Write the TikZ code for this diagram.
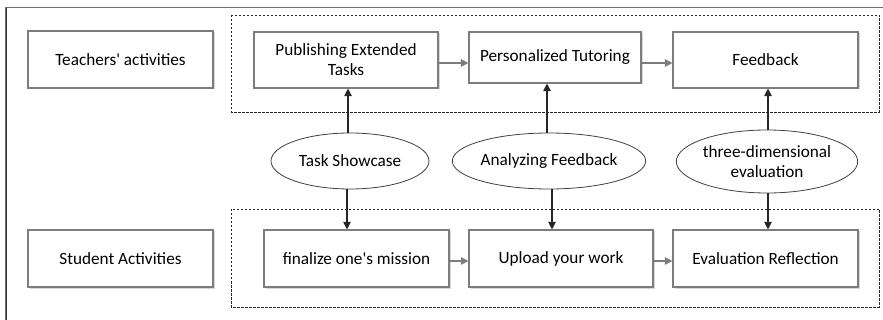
\documentclass[tikz,border=0pt]{standalone}
\usepackage{fontspec}
\setmainfont{Carlito}[Ligatures=TeXOff]
\usetikzlibrary{shapes.geometric,shadows,arrows.meta}
\definecolor{boxgray}{RGB}{125,125,125}
\definecolor{framegray}{RGB}{110,110,110}
\begin{document}
\begin{tikzpicture}[x=1pt,y=-1pt,
  font=\fontsize{17.2}{20}\selectfont,
  boxnode/.style={draw=boxgray,line width=1.1pt,fill=white,
    drop shadow={shadow xshift=1.5pt,shadow yshift=-1.5pt,fill=black!25,opacity=0.6},
    align=center,inner sep=0pt},
  ellnode/.style={draw=black!75,line width=0.8pt,ellipse,fill=white,align=center,inner sep=0pt},
  grp/.style={draw=black!85,dashed,dash pattern=on 2.5pt off 1.5pt,line width=0.8pt},
  harrow/.style={draw=boxgray,line width=1.1pt,-{Triangle[length=7.5pt,width=7.5pt]}},
  varrow/.style={draw=black!85,line width=1.1pt,-{Triangle[length=7.5pt,width=7.5pt]}}]
\useasboundingbox (0,0) rectangle (883,320);
% outer frame
\draw[framegray,line width=1.4pt] (6,320) -- (6,7.5) -- (883,7.5);
\draw[black!80,line width=1pt] (6,320) -- (6,8);
% groups
\draw[grp] (231,15) rectangle (879,112);
\draw[grp] (231,209) rectangle (879,307);
% boxes
\node[boxnode,minimum width=185pt,minimum height=57pt] (ta) at (120.5,59.5) {Teachers' activities};
\node[boxnode,minimum width=184pt,minimum height=56pt] (pub) at (346,60) {Publishing Extended\\Tasks};
\node[boxnode,minimum width=172pt,minimum height=51pt] (pers) at (555,57.5) {Personalized Tutoring};
\node[boxnode,minimum width=185pt,minimum height=56pt] (fb) at (765.5,60) {Feedback};
\node[boxnode,minimum width=185pt,minimum height=57pt] (sa) at (120.5,258.5) {Student Activities};
\node[boxnode,minimum width=185pt,minimum height=57pt] (fin) at (356.5,258.5) {finalize one's mission};
\node[boxnode,minimum width=184pt,minimum height=57pt] (up) at (561,258.5) {Upload your work};
\node[boxnode,minimum width=185pt,minimum height=57pt] (ev) at (765.5,258.5) {Evaluation Reflection};
% ellipses
\node[ellnode,minimum width=158pt,minimum height=56pt] (ts) at (350,161) {Task Showcase};
\node[ellnode,minimum width=156pt,minimum height=56pt] (af) at (549,161) {Analyzing Feedback};
\node[ellnode,minimum width=156pt,minimum height=63pt] (td) at (767,161.5) {three-dimensional\\evaluation};
% horizontal arrows
\draw[harrow] (pub.east |- 0,63) -- (pers.west |- 0,63);
\draw[harrow] (pers.east |- 0,63) -- (fb.west |- 0,63);
\draw[harrow] (fin.east |- 0,261) -- (up.west |- 0,261);
\draw[harrow] (up.east |- 0,261) -- (ev.west |- 0,261);
% vertical arrows
\draw[varrow] ([xshift=-2pt]ts.north) -- ([xshift=-2pt]ts.north |- pub.south);
\draw[varrow] ([xshift=-3pt]ts.south) -- ([xshift=-3pt]ts.south |- fin.north);
\draw[varrow] ([xshift=-2pt]af.north) -- ([xshift=-2pt]af.north |- pers.south);
\draw[varrow] ([xshift=3pt]af.south) -- ([xshift=3pt]af.south |- up.north);
\draw[varrow] ([xshift=1pt]td.north) -- ([xshift=1pt]td.north |- fb.south);
\draw[varrow] ([xshift=1pt]td.south) -- ([xshift=1pt]td.south |- ev.north);
\end{tikzpicture}
\end{document}
